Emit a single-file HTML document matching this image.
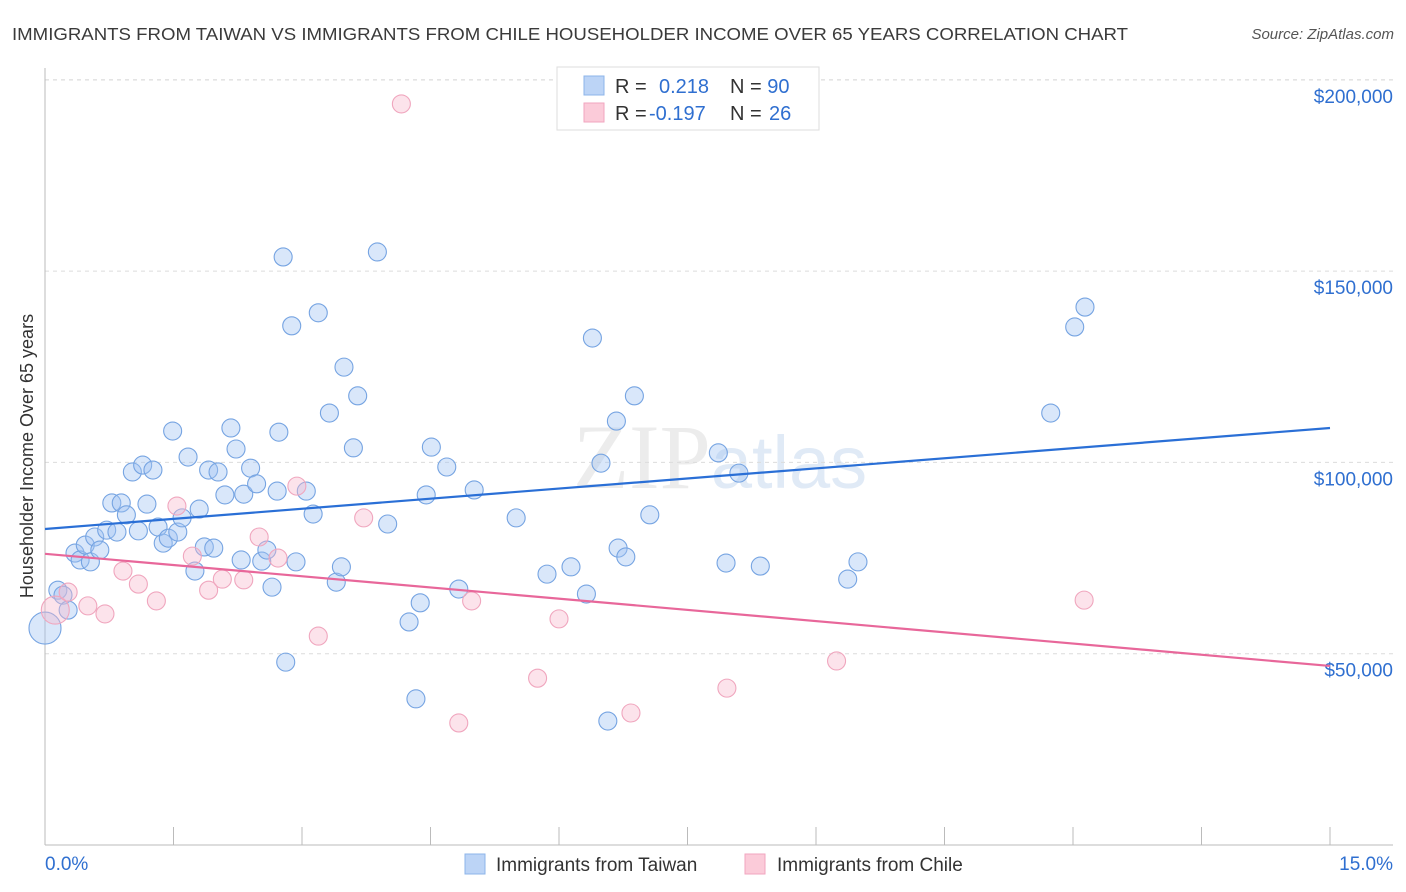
<!DOCTYPE html>
<html><head><meta charset="utf-8"><style>
body{margin:0;background:#fff;font-family:"Liberation Sans",sans-serif;}
svg{display:block}
</style></head><body>
<svg id="chart" width="1406" height="892" xmlns="http://www.w3.org/2000/svg">
<text x="12" y="40" font-size="17.5" fill="#3a3a3a" textLength="1116" lengthAdjust="spacingAndGlyphs">IMMIGRANTS FROM TAIWAN VS IMMIGRANTS FROM CHILE HOUSEHOLDER INCOME OVER 65 YEARS CORRELATION CHART</text>
<text x="1394" y="39" font-size="15" fill="#555" text-anchor="end" font-style="italic">Source: ZipAtlas.com</text>
<text x="720" y="488" font-size="92" fill="#ececec" text-anchor="middle" font-family="Liberation Serif,serif">ZIP<tspan fill="#e0eaf6" font-family="Liberation Sans,sans-serif" font-size="74">atlas</tspan></text>
<g id="grid"></g>
<g id="axes"></g>
<g id="marks"></g>
<text transform="translate(33,456) rotate(-90)" font-size="18" fill="#333" text-anchor="middle">Householder Income Over 65 years</text>
<g>
<rect x="557" y="67" width="262" height="63" fill="#fff" stroke="#ddd"/>
<rect x="584" y="76" width="20" height="19" fill="#bcd4f6" stroke="#8db4ea"/>
<rect x="584" y="103" width="20" height="19" fill="#fbcbd9" stroke="#f2a6bf"/>
<text x="615" y="93" font-size="20" fill="#333">R = <tspan x="659" fill="#2f6fd0">0.218</tspan><tspan x="730" fill="#333">N = </tspan><tspan fill="#2f6fd0">90</tspan></text>
<text x="615" y="120" font-size="20" fill="#333">R = <tspan x="649" fill="#2f6fd0">-0.197</tspan><tspan x="730" fill="#333">N = </tspan><tspan x="769" fill="#2f6fd0">26</tspan></text>
</g>
<g>
<rect x="465" y="854" width="20" height="20" fill="#bcd4f6" stroke="#8db4ea"/>
<text x="496" y="871" font-size="19" fill="#333">Immigrants from Taiwan</text>
<rect x="745" y="854" width="20" height="20" fill="#fbcbd9" stroke="#f2a6bf"/>
<text x="777" y="871" font-size="19" fill="#333">Immigrants from Chile</text>
</g>
</svg>
<script>
const yTicks=[50000,100000,150000,200000];
const yTickLabels=["$50,000","$100,000","$150,000","$200,000"];
const xTicks=[0,1.5,3,4.5,6,7.5,9,10.5,12,13.5,15];
const xEndLabels=["0.0%","15.0%"];
const taiwanX=[0.15,0.21,0.27,0.0,0.35,0.41,0.47,0.53,0.58,0.64,0.72,0.78,0.84,0.89,0.95,1.02,1.09,1.14,1.19,1.26,1.32,1.38,1.44,1.49,1.55,1.60,1.67,1.75,1.80,1.86,1.91,1.97,2.02,2.10,2.17,2.23,2.29,2.32,2.40,2.47,2.53,2.59,2.65,2.73,2.78,2.71,2.81,2.88,2.93,3.05,3.13,3.19,3.32,3.40,3.46,3.49,3.60,3.65,3.88,4.00,4.25,4.33,4.38,4.45,4.51,4.69,4.83,5.01,5.50,5.86,6.14,6.32,6.39,6.49,6.57,6.67,6.69,6.78,6.88,7.06,7.86,7.95,8.10,8.35,9.37,9.49,11.74,12.02,12.14];
const taiwanY=[66.6,65.3,61.4,56.7,76.3,74.5,78.4,74.0,80.5,77.1,82.3,89.4,81.8,89.4,86.3,97.5,82.1,99.3,89.1,98.0,83.1,78.9,80.2,108.2,81.8,85.5,101.4,71.6,87.8,77.9,98.0,77.6,97.5,91.5,109.0,103.5,74.5,91.7,98.5,94.4,74.2,77.1,67.4,107.9,153.7,92.5,47.8,135.7,74.0,92.5,86.5,139.1,112.9,68.7,72.7,124.9,103.8,117.4,155.0,83.9,58.3,38.2,63.3,91.5,104.0,98.8,66.9,92.8,85.5,70.8,72.7,65.6,132.5,99.8,32.4,110.8,77.6,75.3,117.4,86.3,102.5,73.7,97.2,72.9,69.5,74.0,112.9,135.4,140.6];
const chileX=[0.12,0.27,0.50,0.70,0.91,1.09,1.30,1.54,1.72,1.91,2.07,2.32,2.50,2.72,2.94,3.19,3.72,4.16,4.83,4.98,5.75,6.00,6.84,7.96,9.24,12.13];
const chileY=[61.4,66.1,62.5,60.4,71.6,68.2,63.8,88.6,75.5,66.6,69.5,69.3,80.5,75.0,93.8,54.6,85.5,193.7,31.9,63.8,43.6,59.1,34.5,41.0,48.1,64.0];
const taiwanTrend=[82.6,109.0];
const chileTrend=[76.1,46.8];
const trendX=[0,15];

const NS="http://www.w3.org/2000/svg";
const xs=v=>45+v/15*1285;
const ys=v=>845-v/50000*191.3;
const ysk=v=>ys(v*1000);
function mk(t,a,p){const e=document.createElementNS(NS,t);for(const k in a)e.setAttribute(k,a[k]);p.appendChild(e);return e;}
const grid=document.getElementById('grid'),axes=document.getElementById('axes'),marks=document.getElementById('marks');
yTicks.forEach((t,i)=>{
 const l=mk('line',{x1:45,x2:1393,y1:ys(t),y2:ys(t),stroke:'#dcdcdc','stroke-dasharray':'4,4'},grid);
 
 
 const tx=mk('text',{x:1393,y:ys(t)+23,'font-size':19,fill:'#2f6fd0','text-anchor':'end'},axes);
 tx.textContent=yTickLabels[i];
 
 
});
const t0=mk('line',{x1:45,x2:1393,y1:80,y2:80,stroke:'#dcdcdc','stroke-dasharray':'4,4'},grid);


const ya=mk('line',{x1:45,x2:45,y1:68,y2:845,stroke:'#bbb'},axes);


const xa=mk('line',{x1:45,x2:1393,y1:845,y2:845,stroke:'#bbb'},axes);


xTicks.forEach(t=>{
 const l=mk('line',{x1:xs(t),x2:xs(t),y1:827,y2:845,stroke:'#bbb'},axes);
 
 
});
const xl0=mk('text',{x:45,y:870,'font-size':19,fill:'#2f6fd0'},axes);xl0.textContent=xEndLabels[0];


const xl1=mk('text',{x:1393,y:870,'font-size':19,fill:'#2f6fd0','text-anchor':'end'},axes);xl1.textContent=xEndLabels[1];


taiwanX.forEach((x,i)=>{
 const c=mk('circle',{cx:xs(x),cy:ysk(taiwanY[i]),r:(i===3?16:9),fill:'rgba(160,196,242,0.4)',stroke:'#76a4e2','stroke-width':1.1},marks);
 
 
});
chileX.forEach((x,i)=>{
 const c=mk('circle',{cx:xs(x),cy:ysk(chileY[i]),r:(i===0?14:9),fill:'rgba(248,184,205,0.4)',stroke:'#f0a6be','stroke-width':1.1},marks);
 
 
});
const bl=mk('line',{x1:xs(trendX[0]),x2:xs(trendX[1]),y1:ysk(taiwanTrend[0]),y2:ysk(taiwanTrend[1]),stroke:'#2a6fd6','stroke-width':2.2},marks);


const pl=mk('line',{x1:xs(trendX[0]),x2:xs(trendX[1]),y1:ysk(chileTrend[0]),y2:ysk(chileTrend[1]),stroke:'#e8679a','stroke-width':2.2},marks);


</script>
</body></html>
